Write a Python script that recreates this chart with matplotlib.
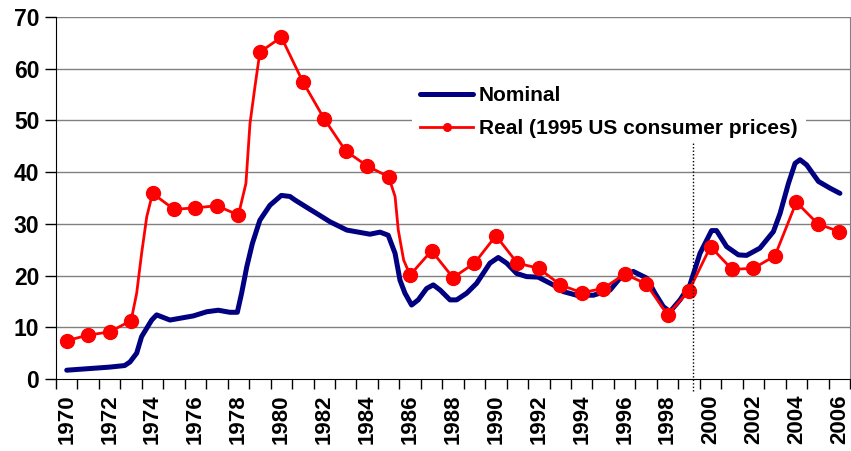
import numpy as np
import matplotlib
matplotlib.use('Agg')
import matplotlib.pyplot as plt

plt.rcParams['font.family'] = ['Liberation Sans', 'DejaVu Sans']

#Jahre (Kategorien)
years = np.arange(1970, 2007)

#Real (1995 US consumer prices), jaehrlich
real = [7.4, 8.5, 9.1, 11.3, 35.9, 32.8, 33.1, 33.5, 31.7, 63.2,
        66.1, 57.5, 50.3, 44.1, 41.2, 39.1, 20.1, 24.8, 19.6, 22.4,
        27.7, 22.4, 21.4, 18.2, 16.7, 17.5, 20.3, 18.4, 12.4, 17.1,
        25.6, 21.2, 21.4, 23.8, 34.2, 30.0, 28.5]

#Zwischenwerte der Realreihe (Preisschocks)
real_extra_t = [1973.26, 1973.49, 1973.73, 1978.35, 1978.54, 1978.77, 1985.3, 1985.45, 1985.7]
real_extra_v = [16.6, 24.3, 31.4, 37.8, 49.4, 56.5, 35.3, 28.8, 23.0]

#Nominal, unterjaehrig
nom_t = [1970.0, 1971.0, 1972.0, 1972.7, 1972.95, 1973.26, 1973.49, 1973.96, 1974.19, 1974.81,
         1975.9, 1976.52, 1977.06, 1977.6, 1977.95, 1978.15, 1978.39, 1978.65, 1979.0, 1979.47,
         1980.0, 1980.4, 1980.64, 1981.18, 1981.65, 1982.27, 1983.05, 1984.13, 1984.6, 1984.98,
         1985.3, 1985.53, 1985.76, 1986.07, 1986.38, 1986.77, 1987.08, 1987.4, 1987.86, 1988.17,
         1988.64, 1989.1, 1989.72, 1990.11, 1990.5, 1990.97, 1991.43, 1991.97, 1992.67, 1993.14,
         1993.76, 1994.54, 1995.32, 1995.78, 1996.4, 1997.03, 1997.41, 1997.8, 1998.11, 1998.58,
         1999.04, 1999.51, 2000.05, 2000.28, 2000.75, 2001.3, 2001.68, 2002.3, 2002.93, 2003.24,
         2003.63, 2003.94, 2004.17, 2004.48, 2005.03, 2005.57, 2006.03]
nom_v = [1.7, 2.0, 2.3, 2.6, 3.3, 5.0, 8.2, 11.4, 12.4, 11.4,
         12.2, 13.0, 13.3, 12.9, 12.9, 16.6, 21.7, 26.2, 30.7, 33.6,
         35.5, 35.3, 34.6, 33.2, 32.0, 30.4, 28.8, 28.0, 28.4, 27.8,
         24.3, 19.1, 16.6, 14.3, 15.3, 17.5, 18.2, 17.2, 15.3, 15.3,
         16.6, 18.5, 22.4, 23.5, 22.4, 20.4, 19.8, 19.7, 18.2, 16.9,
         16.2, 16.2, 17.2, 19.5, 20.8, 19.5, 16.6, 14.0, 13.0, 15.3,
         18.2, 24.3, 28.7, 28.7, 25.6, 24.0, 23.9, 25.3, 28.5, 32.0,
         37.8, 41.7, 42.4, 41.4, 38.2, 36.9, 35.9]

#Trennlinie
split_year = 1999.18

yticks = np.arange(0, 71, 10)
xlabels = np.arange(1970, 2007, 2)

#Realreihe mit Zwischenwerten zusammenfuehren
real_t = np.concatenate([years, real_extra_t])
real_all = np.concatenate([real, real_extra_v])
order = np.argsort(real_t)
real_t = real_t[order]
real_all = real_all[order]
is_marker = np.isin(real_t, years)
marker_idx = list(np.where(is_marker)[0])

fig = plt.figure(figsize=(8.51, 4.51), dpi=100)
ax = fig.add_axes([56/851, 72/451, 794/851, 362/451])

grid_col = '#808080'
for v in yticks[1:]:
    ax.axhline(v, color=grid_col, lw=1.0, zorder=1)

ax.plot(nom_t, nom_v, color='#000080', lw=3.6, solid_capstyle='round',
        solid_joinstyle='round', label='Nominal', zorder=3)
ax.plot(real_t, real_all, color='#ff0000', lw=2.0, marker='o', markersize=10,
        markevery=marker_idx, label='Real (1995 US consumer prices)', zorder=4)

#gepunktete Trennlinie (ueber der Legende)
ax.plot([split_year, split_year], [-2.3, 45.8], color='black', lw=1.0,
        linestyle=(0, (1, 1.5)), clip_on=False, zorder=6)

ax.set_xlim(1969.5, 2006.5)
ax.set_ylim(0, 70)

ax.set_xticks(np.arange(1969.5, 2007, 1))
ax.set_xticklabels([])
ax.set_xticks(xlabels, minor=True)
ax.set_xticklabels([str(y) for y in xlabels], minor=True, rotation=90,
                   fontsize=16, fontweight='bold')
ax.tick_params(axis='x', which='major', direction='out', length=7, width=1, color='black')
ax.tick_params(axis='x', which='minor', length=0, pad=11)

ax.set_yticks(yticks)
ax.set_yticklabels([str(v) for v in yticks], fontsize=16.5, fontweight='bold')
ax.tick_params(axis='y', direction='out', length=8, width=1, pad=4)

ax.spines['top'].set_visible(False)
ax.spines['right'].set_color(grid_col)
ax.spines['left'].set_color('black')
ax.spines['bottom'].set_color('black')

leg = ax.legend(loc='upper left', bbox_to_anchor=(412/851, 1 - 78/451),
                bbox_transform=fig.transFigure, frameon=True, fancybox=False,
                edgecolor='none', facecolor='white', framealpha=1,
                prop={'weight': 'bold', 'size': 15}, handlelength=2.55,
                handletextpad=0.25, markerscale=0.55, borderpad=0.4,
                labelspacing=0.65, borderaxespad=0)
leg.set_zorder(5)

fig.savefig('out.png', dpi=100)
